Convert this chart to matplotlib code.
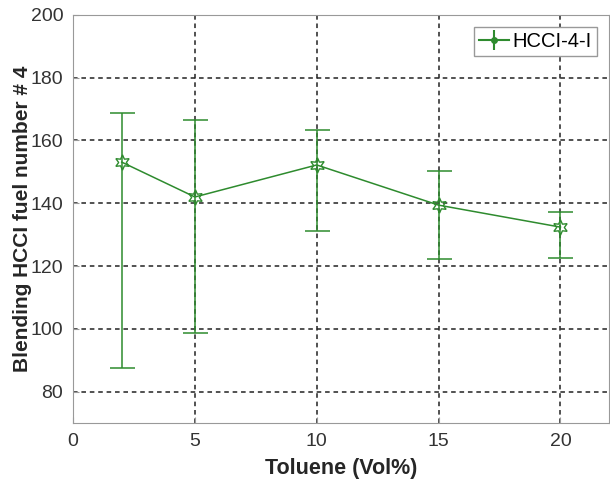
import matplotlib
matplotlib.use("Agg")
from matplotlib import pyplot as plt
import numpy as np

plt.rcParams['font.family'] = ['Liberation Sans', 'DejaVu Sans']

toluene = [2, 5, 10, 15, 20]
bhfn = [153.1, 142.0, 152.2, 139.4, 132.4]
upper = [168.7, 166.5, 163.3, 150.3, 137.2]
lower = [87.4, 98.6, 131.1, 122.2, 122.7]

err_lo = np.array(bhfn) - np.array(lower)
err_hi = np.array(upper) - np.array(bhfn)

green = '#2e8b2e'

fig = plt.figure(figsize=(6.10, 4.87), dpi=100)
ax = fig.add_axes([0.1197, 0.1314, 0.879, 0.838])

ax.errorbar(toluene, bhfn, yerr=[err_lo, err_hi], color=green, lw=1.1,
            marker=(6, 1, 0), markersize=11, markerfacecolor='none',
            markeredgecolor=green, capsize=9, capthick=1.1, elinewidth=1.1,
            label='_nolegend_', zorder=3)
# legend handle: filled dot style
ax.errorbar([], [], yerr=[], color=green, marker='o', markersize=4,
            capsize=4, label='HCCI-4-I')

ax.set_xlim(0, 22)
ax.set_ylim(70, 200)
ax.set_xticks([0, 5, 10, 15, 20])
ax.set_yticks([80, 100, 120, 140, 160, 180, 200])
ax.grid(True, color='#222222', linestyle=(0, (3, 2.5)), linewidth=1.1)
ax.set_axisbelow(True)

for s in ax.spines.values():
    s.set_color('#999999')
ax.tick_params(direction='in', length=4, colors='#999999', labelcolor='#333333',
               labelsize=14, pad=7)

ax.set_xlabel('Toluene (Vol%)', fontsize=15.5, fontweight='bold', color='#262626',
              labelpad=6)
ax.set_ylabel('Blending HCCI fuel number # 4', fontsize=15, fontweight='bold',
              color='#262626', labelpad=-1)

leg = ax.legend(loc='upper right', fontsize=14.5, fancybox=False, framealpha=1,
                handlelength=1.5, handletextpad=0.2, borderpad=0.25,
                borderaxespad=0.6)
leg.get_frame().set_edgecolor('#999999')

fig.savefig('out.png', dpi=100)
